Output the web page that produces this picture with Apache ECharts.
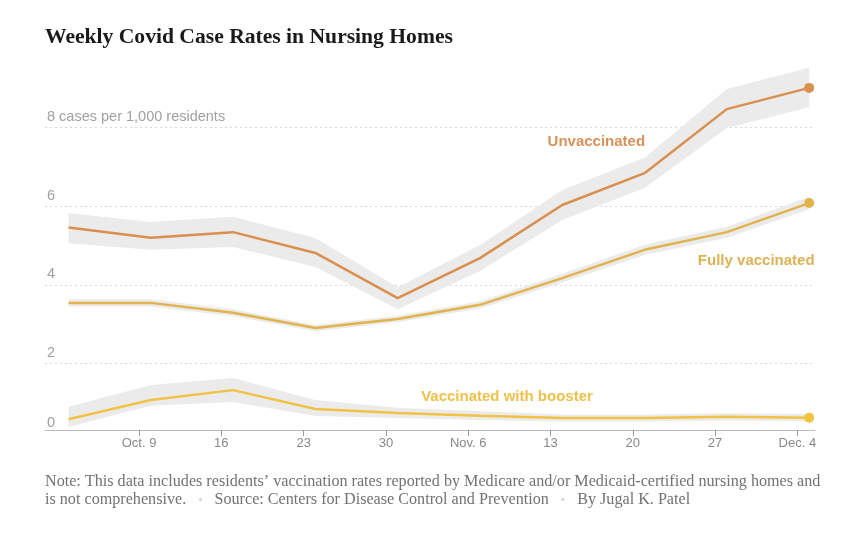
<!DOCTYPE html>
<html><head><meta charset="utf-8">
<script src="https://cdn.jsdelivr.net/npm/echarts@6/dist/echarts.min.js"></script>
<style>html,body{margin:0;padding:0;background:#fff}#c{width:850px;height:546px}</style>
</head><body><div id="c"></div>
<script>
// Days after Oct. 3 for each weekly data point
const dayOffsets = [0, 7, 14, 21, 28, 35, 42, 49, 56, 63];
const tickDays = [6, 13, 20, 27, 34, 41, 48, 55, 62];
const tickLabels = ['Oct. 9', '16', '23', '30', 'Nov. 6', '13', '20', '27', 'Dec. 4'];
const yTicks = [0, 2, 4, 6, 8];

const unvacc     = [5.46, 5.20, 5.34, 4.81, 3.66, 4.68, 6.03, 6.84, 8.47, 9.01];
const unvaccLow  = [5.06, 4.89, 4.96, 4.45, 3.38, 4.35, 5.65, 6.46, 7.99, 8.52];
const unvaccHigh = [5.83, 5.60, 5.73, 5.19, 3.94, 5.01, 6.41, 7.23, 8.98, 9.52];

const fully      = [3.54, 3.54, 3.29, 2.90, 3.13, 3.49, 4.17, 4.89, 5.34, 6.08];
const fullyLow   = [3.45, 3.45, 3.20, 2.82, 3.05, 3.40, 4.06, 4.76, 5.20, 5.92];
const fullyHigh  = [3.63, 3.63, 3.38, 2.98, 3.21, 3.58, 4.28, 5.02, 5.48, 6.24];

const booster     = [0.58, 1.07, 1.32, 0.84, 0.74, 0.67, 0.61, 0.61, 0.64, 0.62];
const boosterLow  = [0.38, 0.92, 1.02, 0.66, 0.61, 0.56, 0.52, 0.52, 0.55, 0.53];
const boosterHigh = [0.90, 1.45, 1.63, 1.07, 0.87, 0.78, 0.70, 0.70, 0.73, 0.71];

const seriesNames = ['Unvaccinated', 'Fully vaccinated', 'Vaccinated with booster'];

const pairs = arr => arr.map((v, i) => [dayOffsets[i], v]);

function band(lo, hi) {
  return {
    type: 'custom', silent: true, z: 1,
    data: dayOffsets.map((d, i) => [d, lo[i], hi[i]]),
    encode: { x: 0, y: [1, 2] },
    renderItem: (params, api) => {
      if (params.dataIndex !== 0) return null;
      const top = dayOffsets.map((d, i) => api.coord([d, hi[i]]));
      const bot = dayOffsets.map((d, i) => api.coord([d, lo[i]])).reverse();
      return { type: 'polygon', shape: { points: top.concat(bot) }, style: { fill: '#ebebeb' } };
    }
  };
}
function line(name, data, color, label) {
  return { type: 'line', name, data: pairs(data), z: 3,
    lineStyle: { color, width: 2.5 }, itemStyle: { color },
    showSymbol: true, symbol: 'circle',
    symbolSize: (v, p) => p.dataIndex === data.length - 1 ? 10 : 0,
    markPoint: { symbol: 'circle', symbolSize: 0, data: [{ coord: label.coord,
      label: { show: true, position: 'inside', formatter: name, color: label.color,
        fontFamily: 'Liberation Sans', fontWeight: 'bold', fontSize: 15 } }] }
  };
}

const chart = echarts.init(document.getElementById('c'), null, { renderer: 'canvas' });
chart.setOption({
  animation: false,
  backgroundColor: '#fff',
  title: { text: 'Weekly Covid Case Rates in Nursing Homes', left: 40, top: 21,
    textStyle: { fontFamily: 'Liberation Serif', fontWeight: 'bold', fontSize: 21.6, color: '#1a1a1a' } },
  grid: { left: 45, right: 35, top: 49, bottom: 104 },
  xAxis: { type: 'value', min: -2, max: 63.5, offset: -12,
    axisLine: { show: true, lineStyle: { color: '#bbb', width: 1 } },
    axisTick: { show: true, customValues: tickDays, length: 6, lineStyle: { color: '#999' } },
    axisLabel: { customValues: tickDays, margin: 7, color: '#888', fontSize: 13, fontFamily: 'Liberation Sans',
      formatter: v => tickLabels[tickDays.indexOf(v)] || '' },
    splitLine: { show: false } },
  yAxis: { type: 'value', min: 0, max: 10, interval: 2,
    axisLine: { show: false }, axisTick: { show: false },
    axisLabel: { inside: true, margin: 2, verticalAlign: 'bottom', padding: [0, 0, 3, 0],
      color: '#a0a0a0', fontSize: 14.5, fontFamily: 'Liberation Sans', showMaxLabel: false,
      formatter: v => v === 8 ? '8 cases per 1,000 residents' : (v === 0 ? '{z|0}' : (yTicks.includes(v) ? String(v) : '')),
      rich: { z: { padding: [0, 0, 9, 0], fontSize: 14.5, fontFamily: 'Liberation Sans', color: '#a0a0a0' } } },
    splitLine: { show: true, showMinLine: false, showMaxLine: false, lineStyle: { color: '#d8d8d8', type: [2, 3], width: 1 } } },
  series: [
    band(unvaccLow, unvaccHigh),
    band(fullyLow, fullyHigh),
    band(boosterLow, boosterHigh),
    line(seriesNames[0], unvacc, '#d98f4e', { coord: [44.9, 7.63], color: '#d6925a' }),
    line(seriesNames[1], fully, '#e2b34c', { coord: [58.5, 4.61], color: '#dcb257' }),
    line(seriesNames[2], booster, '#f2c247', { coord: [37.3, 1.15], color: '#eec04c' })
  ],
  graphic: [
    { type: 'text', left: 45, top: 474, style: { text: 'Note: This data includes residents\u2019 vaccination rates reported by Medicare and/or Medicaid-certified nursing homes and',
      font: '16.15px "Liberation Serif"', fill: '#727272' } },
    { type: 'text', left: 45, top: 492, style: { text: '{t|is not comprehensive.}{d|    \u2022    }{t|Source: Centers for Disease Control and Prevention}{d|    \u2022    }{t|By Jugal K. Patel}',
      font: '16.15px "Liberation Serif"', fill: '#727272',
      rich: { t: { font: '16.15px "Liberation Serif"', fill: '#727272' }, d: { font: '11px "Liberation Sans"', fill: '#d0d0d0' } } } }
  ]
});
</script></body></html>
